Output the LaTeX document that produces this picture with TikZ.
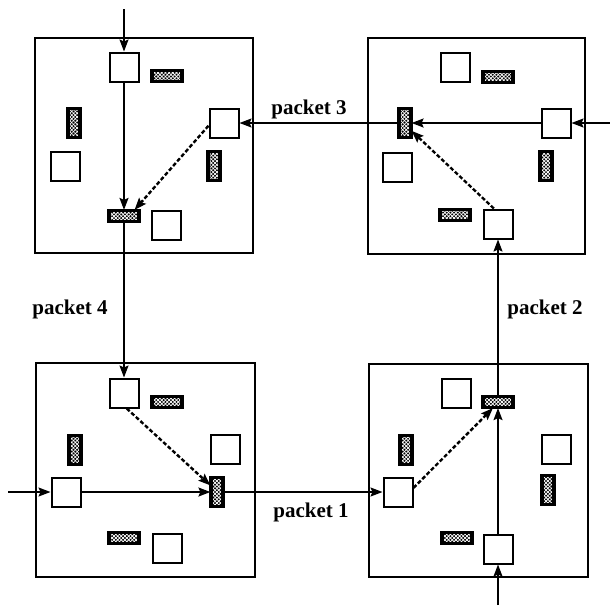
\documentclass[tikz,border=0pt]{standalone}
\usepackage{fontspec}
\setmainfont{Liberation Serif}
\usetikzlibrary{arrows.meta,patterns.meta}
\begin{document}
\begin{tikzpicture}[x=1pt,y=-1pt,
  router/.style={draw=black,line width=2pt,fill=white,minimum width=29pt,minimum height=29pt,inner sep=0pt},
  chipbase/.style={draw=black,fill=black,line width=1.2pt,inner sep=0pt,
    postaction={pattern={Lines[angle=45,distance=2.6pt,line width=0.75pt]},pattern color=white},
    postaction={pattern={Lines[angle=-45,distance=2.6pt,line width=0.75pt]},pattern color=white},
    postaction={draw=black,line width=3.2pt}},
  hchip/.style={chipbase,minimum width=30pt,minimum height=11pt},
  vchip/.style={chipbase,minimum width=12pt,minimum height=29pt},
  boxframe/.style={draw=black,line width=2pt},
  link/.style={line width=1.6pt,-{Stealth[length=12pt,width=9pt,inset=2pt]}},
  alt/.style={line width=2.4pt,dash pattern=on 4pt off 2.2pt,-{Stealth[length=12pt,width=9pt,inset=2pt]}},
  lbl/.style={font=\bfseries\fontsize{21pt}{21pt}\selectfont,anchor=base,inner sep=0pt}]
\useasboundingbox (0,0) rectangle (610,606);
% frames
\draw[boxframe] (35,38) rectangle (253,253);
\draw[boxframe] (368,38) rectangle (585,254);
\draw[boxframe] (36,363) rectangle (255,577);
\draw[boxframe] (369,364) rectangle (588,577);
% top-left
\node[router] (TLsqT) at (124,67) {};
\node[hchip]  (TLhT)  at (167,76) {};
\node[vchip]  (TLvL)  at (74,123) {};
\node[router] (TLsqL) at (65,166) {};
\node[router] (TLsqR) at (224,123) {};
\node[vchip]  (TLvR)  at (214,166) {};
\node[hchip]  (TLhB)  at (124,216) {};
\node[router] (TLsqB) at (166,225) {};
% top-right
\node[router] (TRsqT) at (455,67) {};
\node[hchip]  (TRhT)  at (498,77) {};
\node[vchip]  (TRvL)  at (405,123) {};
\node[router] (TRsqR) at (556,123) {};
\node[router] (TRsqL) at (397,167) {};
\node[vchip]  (TRvR)  at (546,166) {};
\node[hchip]  (TRhB)  at (455,215) {};
\node[router] (TRsqB) at (498,224) {};
% bottom-left
\node[router] (BLsqT) at (124,393) {};
\node[hchip]  (BLhT)  at (167,402) {};
\node[vchip]  (BLvL)  at (75,450) {};
\node[router] (BLsqR) at (225,449) {};
\node[router] (BLsqL) at (66,492) {};
\node[vchip]  (BLvR)  at (217,492) {};
\node[hchip]  (BLhB)  at (124,538) {};
\node[router] (BLsqB) at (167,548) {};
% bottom-right
\node[router] (BRsqT) at (456,393) {};
\node[hchip]  (BRhT)  at (498,402) {};
\node[vchip]  (BRvL)  at (406,450) {};
\node[router] (BRsqR) at (556,449) {};
\node[router] (BRsqL) at (398,492) {};
\node[vchip]  (BRvR)  at (548,490) {};
\node[hchip]  (BRhB)  at (457,538) {};
\node[router] (BRsqB) at (498,549) {};
% free ends
\coordinate (inTL) at (124,9);
\coordinate (inTR) at (610,123);
\coordinate (inBR) at (498,605);
\coordinate (inBL) at (8,492);
% solid links
\draw[link] (inTL) -- (TLsqT.north);
\draw[link] (TLsqT.south) -- (TLhB.north);
\draw[link] (TLhB.south) -- (BLsqT.north);
\draw[link] (inBL) -- (BLsqL.west);
\draw[link] (BLsqL.east) -- (BLvR.west);
\draw[link] (BLvR.east) -- (BRsqL.west);
\draw[link] (inBR) -- (BRsqB.south);
\draw[link] (BRsqB.north) -- (BRhT.south);
\draw[link] (BRhT.north) -- (TRsqB.south);
\draw[link] (inTR) -- (TRsqR.east);
\draw[link] (TRsqR.west) -- (TRvL.east);
\draw[link] (TRvL.west) -- (TLsqR.east);
% dashed links
\draw[alt] (TLsqR.190) -- (TLhB.30);
\draw[alt] (TRsqB.105) -- (TRvL.-50);
\draw[alt] (BLsqT.280) -- (BLvR.135);
\draw[alt] (BRsqL.15) -- (BRhT.230);
% labels
\node[lbl] (p3) at (309,114) {packet 3};
\node[lbl] (p4) at (70,314) {packet 4};
\node[lbl] (p2) at (545,314) {packet 2};
\node[lbl] (p1) at (311,517) {packet 1};
\end{tikzpicture}
\end{document}
